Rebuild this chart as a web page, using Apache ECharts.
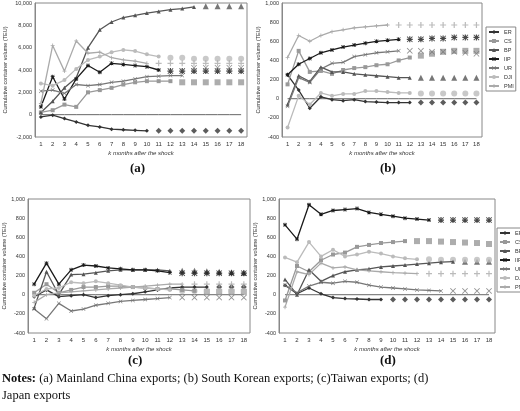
<!DOCTYPE html>
<html><head><meta charset="utf-8">
<script src="https://cdn.jsdelivr.net/npm/echarts@6/dist/echarts.min.js"></script>
<style>body{margin:0;background:#fff}#c{width:520px;height:411px}</style>
</head><body><div id="c"></div>
<script>
var months = ['1','2','3','4','5','6','7','8','9','10','11','12','13','14','15','16','17','18'];
var names = ['ER', 'CS', 'BP', 'IIP', 'UR', 'DJI', 'PMI'];

// (a) Mainland China, line ends at month lineEnd, markers after
var a_ER  = [-200,-50,-350,-650,-950,-1100,-1300,-1350,-1400,-1450,-1450,-1450,-1450,-1450,-1450,-1450,-1450,-1450];
var a_CS  = [200,400,900,700,2000,2200,2400,2700,2900,3000,3000,3000,2900,2900,2900,2900,2900,2900];
var a_BP  = [200,1200,2400,3300,6000,7600,8300,8700,8900,9100,9250,9400,9500,9650,9700,9700,9700,9700];
var a_IIP = [700,3400,1400,3200,4400,3800,4600,4500,4400,4300,4000,3900,3900,3900,3900,3900,3900,3900];
var a_UR  = [2100,2200,1900,2700,2600,2700,2900,3000,3200,3400,3450,3500,3500,4200,4200,4200,4200,4200];
var a_DJI = [2800,2600,3100,4100,4900,5200,5600,5800,5700,5400,5200,5100,5100,5000,5000,5000,5000,5000];
var a_PMI = [1000,6200,3900,6600,5500,5600,5100,4900,4800,4600,4600,4600,4600,4600,4600,4600,4600,4600];
var a_end = [10, 12, 14, 11, 13, 11, 10];

// (b) South Korea
var b_ER  = [250,90,-100,20,-10,-20,-10,-30,-35,-40,-40,-40,-40,-40,-40,-40,-40,-40];
var b_CS  = [150,500,280,290,260,300,320,330,350,360,400,430,450,470,490,500,500,500];
var b_BP  = [-60,240,180,330,280,280,260,250,240,230,220,220,220,220,220,220,220,220];
var b_IIP = [250,360,420,480,510,540,560,580,600,610,620,620,620,630,630,640,640,640];
var b_UR  = [-80,220,170,310,370,380,440,460,480,490,500,500,500,490,490,490,480,470];
var b_DJI = [-300,30,-60,60,30,50,50,80,80,70,60,60,55,55,55,55,55,55];
var b_PMI = [430,660,600,660,700,720,740,750,760,770,770,770,770,770,770,770,770,770];
var b_end = [12, 12, 12, 11, 11, 12, 10];

// (c) Taiwan
var c_ER  = [-20,50,-20,-10,0,-30,-10,0,10,30,50,70,80,80,80,80,80,80];
var c_CS  = [20,110,20,50,80,80,90,90,80,70,60,60,50,40,30,30,30,30];
var c_BP  = [-140,240,0,210,215,230,250,260,260,260,260,250,250,250,245,240,235,230];
var c_IIP = [110,330,110,260,310,300,280,270,260,260,250,230,225,225,225,225,225,225];
var c_UR  = [-150,-250,-90,-170,-150,-110,-90,-70,-60,-50,-40,-30,-30,-30,-30,-30,-30,-30];
var c_DJI = [-10,60,70,130,120,140,120,100,80,70,60,50,40,40,40,40,40,40];
var c_PMI = [-80,0,20,30,40,50,60,70,80,90,100,110,110,110,110,110,110,110];
var c_end = [15, 14, 12, 12, 12, 12, 13];

// (d) Japan
var d_ER  = [100,10,70,10,-30,-40,-45,-50,-50,-50,-50,-50,-50,-50,-50,-50,-50,-50];
var d_CS  = [-60,300,240,360,420,440,500,520,540,550,560,560,560,555,550,545,540,530];
var d_BP  = [160,0,260,140,200,240,260,270,290,300,310,320,330,340,345,345,345,345];
var d_IIP = [730,580,940,840,880,890,900,860,840,820,800,790,780,780,780,780,780,780];
var d_UR  = [100,20,90,130,120,140,130,100,80,70,60,50,45,40,40,40,40,40];
var d_DJI = [390,340,550,400,470,400,420,450,430,400,380,370,370,365,365,365,365,365];
var d_PMI = [-130,240,210,330,280,290,260,250,240,230,225,220,220,220,220,220,220,220];
var d_end = [9, 11, 15, 13, 14, 12, 12];

var colors = ['#333', '#999', '#555', '#1a1a1a', '#777', '#bbb', '#aaa'];
var XSYM = 'path://M0,1L1,0L5,4L9,0L10,1L6,5L10,9L9,10L5,6L1,10L0,9L4,5Z';
var PSYM = 'path://M4,0h2v4h4v2h-4v4h-2v-4h-4v-2h4z';
var STAR = 'path://M4,0h2v4h4v2h-4v4h-2v-4h-4v-2h4zM0,1L1,0L5,4L9,0L10,1L6,5L10,9L9,10L5,6L1,10L0,9L4,5Z';
var symbols = ['diamond', 'rect', 'triangle', STAR, XSYM, 'circle', PSYM];

var panels = [
  {d: [a_ER,a_CS,a_BP,a_IIP,a_UR,a_DJI,a_PMI], end: a_end, grid: {left: 35, top: 3, width: 212, height: 134}, min: -2000, max: 10000, iv: 2000},
  {d: [b_ER,b_CS,b_BP,b_IIP,b_UR,b_DJI,b_PMI], end: b_end, grid: {left: 282, top: 1, width: 200, height: 136}, min: -400, max: 1000, iv: 200},
  {d: [c_ER,c_CS,c_BP,c_IIP,c_UR,c_DJI,c_PMI], end: c_end, grid: {left: 28, top: 199, width: 222, height: 134}, min: -400, max: 1000, iv: 200},
  {d: [d_ER,d_CS,d_BP,d_IIP,d_UR,d_DJI,d_PMI], end: d_end, grid: {left: 279, top: 199, width: 216, height: 134}, min: -400, max: 1000, iv: 200}
];

var grids = [], xAxes = [], yAxes = [], series = [];
panels.forEach(function (p, k) {
  var g = p.grid;
  g.borderColor = '#888'; g.borderWidth = 1; g.show = true;
  grids.push(g);
  xAxes.push({type: 'category', gridIndex: k, data: months, name: 'k months after the shock',
    nameLocation: 'middle', nameGap: 13, nameTextStyle: {fontSize: 6, color: '#333', fontStyle: 'italic'},
    axisLine: {show: false}, axisTick: {show: false}, axisLabel: {fontSize: 6, color: '#333', margin: 4}});
  yAxes.push({type: 'value', gridIndex: k, min: p.min, max: p.max, interval: p.iv,
    name: 'Cumulative container volume (TEU)', nameLocation: 'middle', nameGap: k == 0 ? 27 : 21,
    nameTextStyle: {fontSize: 5.5, color: '#333'}, splitLine: {show: false},
    axisLine: {show: true, lineStyle: {color: '#888'}}, axisTick: {show: false},
    axisLabel: {fontSize: 5.5, color: '#333', margin: 3, formatter: function (v) { return v.toLocaleString('en-US'); }}});
  series.push({type: 'line', xAxisIndex: k, yAxisIndex: k, data: months.map(function () { return 0; }),
    symbol: 'none', silent: true, lineStyle: {color: '#666', width: 1}, z: 1});
  for (var i = 0; i < 7; i++) {
    var vals = p.d[i], e = p.end[i];
    series.push({name: names[i], type: 'line', xAxisIndex: k, yAxisIndex: k,
      data: vals.map(function (v, j) { return j < e ? v : null; }),
      symbol: symbols[i], symbolSize: 4, color: colors[i], lineStyle: {width: 1.3}});
    series.push({type: 'scatter', xAxisIndex: k, yAxisIndex: k,
      data: vals.map(function (v, j) { return j >= e ? v : null; }),
      symbol: symbols[i], symbolSize: 6, color: colors[i]});
  }
});

var legendBase = {orient: 'vertical', data: names, itemWidth: 10, itemHeight: 5, itemGap: 3,
  textStyle: {fontSize: 5.5, color: '#333'}, borderColor: '#888', borderWidth: 1, padding: 2,
  backgroundColor: '#fff'};
var chart = echarts.init(document.getElementById('c'));
chart.setOption({
  animation: false,
  grid: grids, xAxis: xAxes, yAxis: yAxes, series: series,
  legend: [Object.assign({left: 486, top: 27}, legendBase), Object.assign({left: 497, top: 228}, legendBase)],
  graphic: [
    {type: 'text', left: 130, top: 162, style: {text: '(a)', font: 'bold 13px "Liberation Serif"', fill: '#111'}},
    {type: 'text', left: 380, top: 162, style: {text: '(b)', font: 'bold 13px "Liberation Serif"', fill: '#111'}},
    {type: 'text', left: 128, top: 354, style: {text: '(c)', font: 'bold 13px "Liberation Serif"', fill: '#111'}},
    {type: 'text', left: 380, top: 354, style: {text: '(d)', font: 'bold 13px "Liberation Serif"', fill: '#111'}},
    {type: 'text', left: 2, top: 372, style: {rich: {b: {font: 'bold 12.5px "Liberation Serif"', fill: '#111'}, n: {font: '12.5px "Liberation Serif"', fill: '#111'}},
      text: '{b|Notes:}{n| (a) Mainland China exports; (b) South Korean exports; (c)Taiwan exports; (d)}'}},
    {type: 'text', left: 2, top: 389, style: {text: 'Japan exports', font: '12.5px "Liberation Serif"', fill: '#111'}}
  ]
});
</script></body></html>
